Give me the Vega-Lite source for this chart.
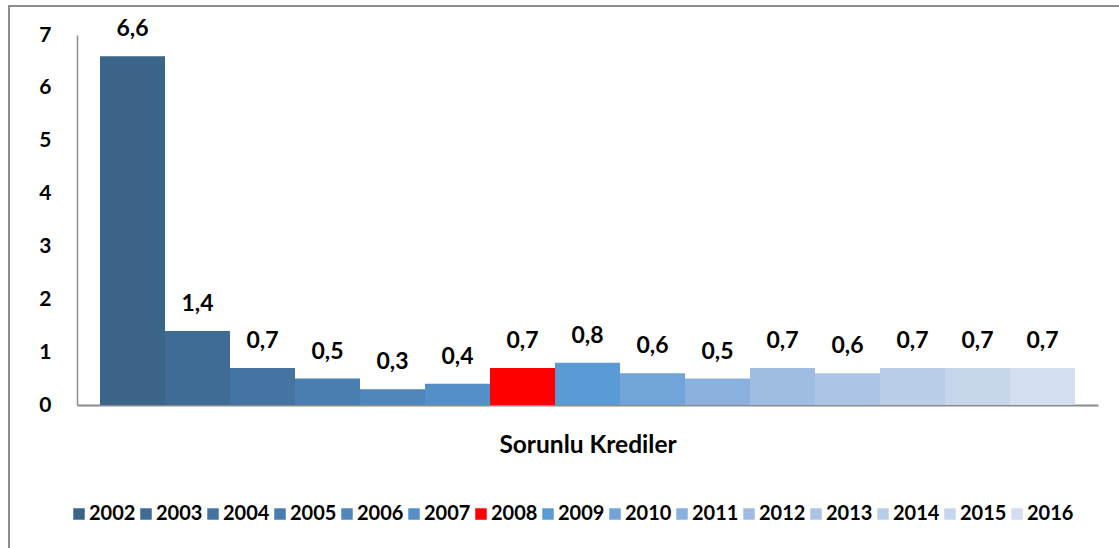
{
  "$schema": "https://vega.github.io/schema/vega-lite/v6.json",
  "autosize": "none",
  "width": 1112,
  "height": 545,
  "padding": {"left": 9, "top": 6, "right": 0, "bottom": 0},
  "background": "white",
  "config": {
    "font": "Lato",
    "view": {"stroke": "#8c8c8c", "strokeWidth": 2},
    "locale": {"number": {"decimal": ",", "thousands": ".", "grouping": [3], "currency": ["", " TL"]}}
  },
  "data": {
    "values": [
      {"cat": "Sorunlu Krediler", "year": "2002", "value": 6.6},
      {"cat": "Sorunlu Krediler", "year": "2003", "value": 1.4},
      {"cat": "Sorunlu Krediler", "year": "2004", "value": 0.7},
      {"cat": "Sorunlu Krediler", "year": "2005", "value": 0.5},
      {"cat": "Sorunlu Krediler", "year": "2006", "value": 0.3},
      {"cat": "Sorunlu Krediler", "year": "2007", "value": 0.4},
      {"cat": "Sorunlu Krediler", "year": "2008", "value": 0.7},
      {"cat": "Sorunlu Krediler", "year": "2009", "value": 0.8},
      {"cat": "Sorunlu Krediler", "year": "2010", "value": 0.6},
      {"cat": "Sorunlu Krediler", "year": "2011", "value": 0.5},
      {"cat": "Sorunlu Krediler", "year": "2012", "value": 0.7},
      {"cat": "Sorunlu Krediler", "year": "2013", "value": 0.6},
      {"cat": "Sorunlu Krediler", "year": "2014", "value": 0.7},
      {"cat": "Sorunlu Krediler", "year": "2015", "value": 0.7},
      {"cat": "Sorunlu Krediler", "year": "2016", "value": 0.7}
    ]
  },
  "encoding": {
    "x": {
      "field": "cat", "type": "nominal",
      "scale": {"range": [68, 1089], "paddingInner": 0, "paddingOuter": 0.0236},
      "axis": {
        "title": "Sorunlu Krediler", "labels": false, "ticks": false,
        "domainColor": "#8c8c8c", "domainWidth": 2, "offset": -146,
        "titleFontSize": 24.5, "titleFontWeight": "bold", "titleColor": "black",
        "titlePadding": 28
      }
    },
    "xOffset": {"field": "year", "type": "nominal", "scale": {"paddingInner": 0, "paddingOuter": 0}},
    "y": {
      "field": "value", "type": "quantitative",
      "scale": {"domain": [0, 7], "range": [399, 29], "nice": false, "zero": true},
      "axis": {
        "title": null, "values": [0, 1, 2, 3, 4, 5, 6, 7], "grid": false, "ticks": false,
        "domainColor": "#8c8c8c", "domainWidth": 1.5, "offset": -68,
        "labelPadding": 26, "labelFontSize": 21, "labelFontWeight": "bold", "labelColor": "black",
        "format": "d"
      }
    }
  },
  "layer": [
    {
      "mark": {"type": "bar"},
      "encoding": {
        "color": {
          "field": "year", "type": "nominal",
          "scale": {
            "domain": ["2002","2003","2004","2005","2006","2007","2008","2009","2010","2011","2012","2013","2014","2015","2016"],
            "range": ["#3a6589","#3f6c94","#4374a2","#4a7eb0","#4f86bb","#5490c7","#ff0000","#5b9bd5","#71a4d9","#8ab1dd","#9fbde2","#adc5e5","#bacde7","#c7d6eb","#d3def0"]
          },
          "legend": {
            "title": null, "orient": "none", "direction": "horizontal", "columns": 15,
            "legendX": 60, "legendY": 498,
            "symbolType": "square", "symbolSize": 132, "symbolStrokeWidth": 0,
            "labelFontSize": 20, "labelFontWeight": "bold", "labelColor": "black",
            "labelOffset": 0, "columnPadding": 0
          }
        }
      }
    },
    {
      "mark": {"type": "text", "baseline": "alphabetic", "dy": -20, "fontSize": 23, "fontWeight": "bold", "color": "black"},
      "encoding": {
        "text": {"field": "value", "type": "quantitative", "format": ".1f"}
      }
    }
  ]
}
